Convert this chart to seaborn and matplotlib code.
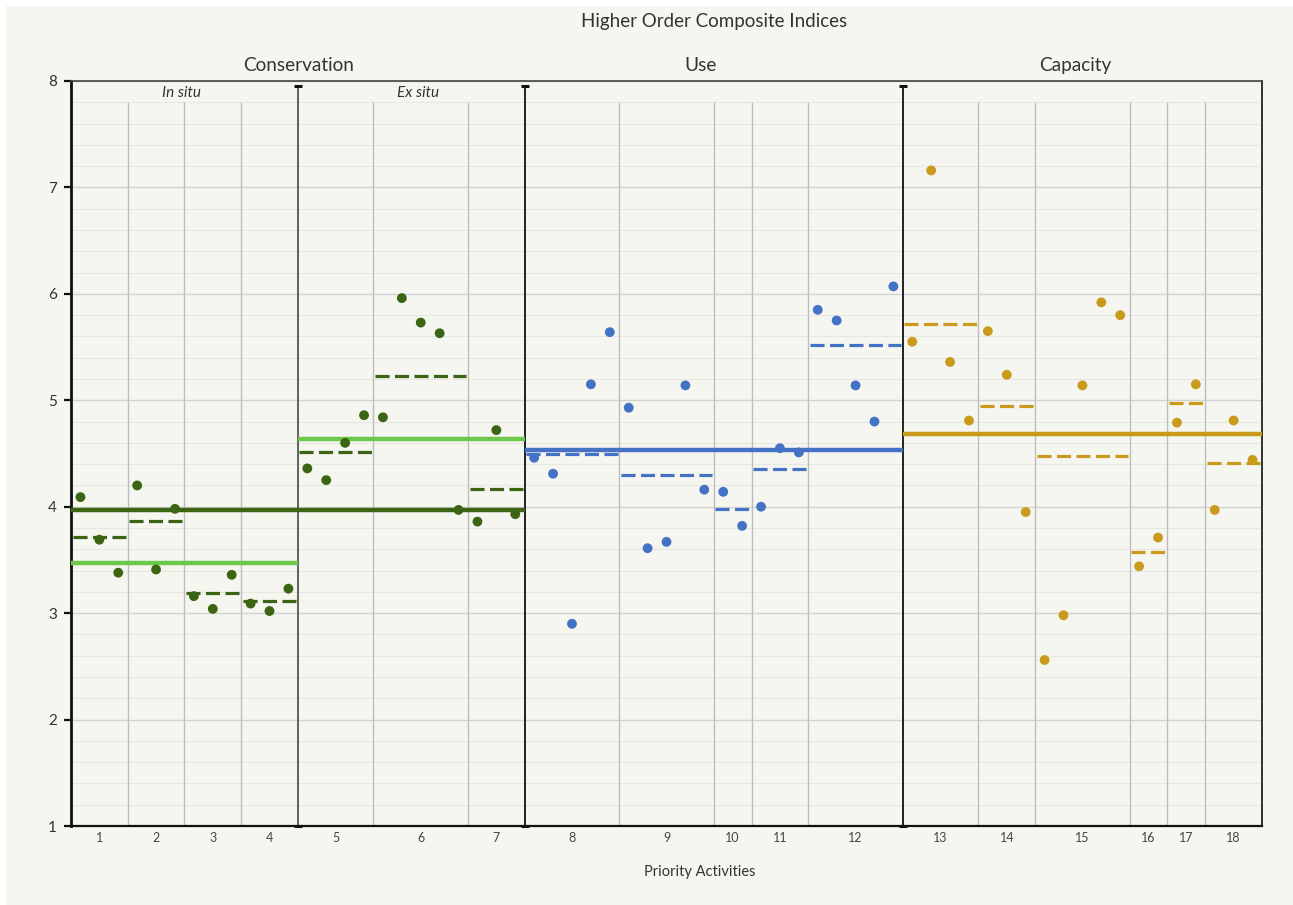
import numpy as np
import pandas as pd
import matplotlib.pyplot as plt
import seaborn as sns
from matplotlib.patches import Rectangle
from matplotlib.ticker import MultipleLocator

# scores per priority activity (one inner list per activity)
in_situ = [[4.09, 3.69, 3.38], [4.20, 3.41, 3.98], [3.16, 3.04, 3.36], [3.09, 3.02, 3.23]]
ex_situ = [[4.36, 4.25, 4.60, 4.86], [4.84, 5.96, 5.73, 5.63, 3.97], [3.86, 4.72, 3.93]]
use = [[4.46, 4.31, 2.90, 5.15, 5.64], [4.93, 3.61, 3.67, 5.14, 4.16], [4.14, 3.82],
       [4.00, 4.55, 4.51], [5.85, 5.75, 5.14, 4.80, 6.07]]
capacity = [[5.55, 7.16, 5.36, 4.81], [5.65, 5.24, 3.95], [2.56, 2.98, 5.14, 5.92, 5.80],
            [3.44, 3.71], [4.79, 5.15], [3.97, 4.81, 4.44]]

section_names = ["In situ", "Ex situ", "Use", "Capacity"]
section_colors = {"In situ": "#3b6512", "Ex situ": "#3b6512", "Use": "#4472c4", "Capacity": "#c99a1c"}
light_green = "#6cc84a"
bg = "#f6f6f1"

# long table: one row per point
rows = []
i = 0
act = 1
groups = []  # (activity, start, end, mean, section)
for name, sec in zip(section_names, [in_situ, ex_situ, use, capacity]):
    for vals in sec:
        start = i
        for v in vals:
            rows.append({"x": i, "value": v, "activity": act, "section": name})
            i += 1
        groups.append((act, start - 0.5, i - 0.5, np.mean(vals), name))
        act += 1
df = pd.DataFrame(rows)
gdf = pd.DataFrame(groups, columns=["activity", "lo", "hi", "mean", "section"])

sns.set_theme(style="white")
plt.rcParams["font.family"] = ["Lato", "DejaVu Sans"]

fig = plt.figure(figsize=(12.93, 9.05), dpi=100, facecolor="white")
fig.add_artist(Rectangle((6 / 1293, 0), 1, 1 - 6 / 905, transform=fig.transFigure,
                         facecolor=bg, edgecolor="none", zorder=-1))
ax = fig.add_axes([71 / 1293, 79 / 905, (1262 - 71) / 1293, (826 - 81) / 905])
ax.set_facecolor(bg)

n = len(df)
ax.set_xlim(-0.5, n - 0.5)
ax.set_ylim(1, 8)

# horizontal gridlines
ax.yaxis.set_major_locator(MultipleLocator(1))
ax.yaxis.set_minor_locator(MultipleLocator(0.2))
ax.grid(axis="y", which="major", color="#d2d2d0", lw=1.0, zorder=0)
ax.grid(axis="y", which="minor", color="#e7e7e2", lw=0.8, zorder=0)

# separators between activities / sections
section_edges = {11.5: "#555555", 23.5: "#111111", 43.5: "#111111"}
for b in gdf["hi"].iloc[:-1]:
    if b in section_edges:
        ax.vlines(b, 1, 7.95, color=section_edges[b], lw=1.3, zorder=2)
        ax.plot([b, b], [1.0, 7.95], ls="none", marker="_", ms=6, mew=2.2, color="#111111", zorder=3, clip_on=False)
    else:
        ax.vlines(b, 1, 7.8, color="#bdbdbd", lw=1.0, zorder=1)

# activity means (dashed)
for _, g in gdf.iterrows():
    ax.plot([g["lo"] + 0.08, g["hi"] - 0.08], [g["mean"], g["mean"]], color=section_colors[g["section"]],
            lw=2.3, dashes=(4.4, 1.7), solid_capstyle="butt", dash_capstyle="butt", zorder=4)

# section means (solid) = mean of activity means
def band(sections, color, zo=5):
    sub = gdf[gdf["section"].isin(sections)]
    ax.plot([sub["lo"].min(), sub["hi"].max()], [sub["mean"].mean()] * 2, color=color, lw=3.2,
            solid_capstyle="butt", zorder=zo)

band(["In situ"], light_green)
band(["Ex situ"], light_green)
band(["In situ", "Ex situ"], section_colors["In situ"], 6)
band(["Use"], section_colors["Use"])
band(["Capacity"], section_colors["Capacity"])

sns.scatterplot(data=df, x="x", y="value", hue="section", palette=section_colors, s=50,
                edgecolor="none", legend=False, ax=ax, zorder=7)

# axes styling
for side in ["left", "bottom", "top", "right"]:
    ax.spines[side].set_visible(True)
    ax.spines[side].set_color("#111111")
ax.spines["left"].set_linewidth(2.0)
ax.spines["bottom"].set_linewidth(1.6)
ax.spines["top"].set_linewidth(1.2)
ax.spines["top"].set_color("#444444")
ax.spines["right"].set_linewidth(1.2)

ax.set_xticks((gdf["lo"] + gdf["hi"]) / 2)
ax.set_xticklabels(gdf["activity"].astype(str))
ax.tick_params(axis="x", length=0, pad=4, labelsize=9, labelcolor="#444444")
ax.tick_params(axis="y", which="major", left=True, length=5, width=1.6, color="#111111",
               pad=5, labelsize=11, labelcolor="#333333")
ax.tick_params(axis="y", which="minor", left=False)
ax.set_yticks(range(1, 9))
ax.set_xlabel("Priority Activities", fontsize=10.5, color="#333333", labelpad=14)
ax.xaxis.set_label_coords((700 - 71) / 1191, -(872 - 826) / 745 + 0.0)
ax.xaxis.label.set_va("center")
ax.set_ylabel("")

# headings
fig.text(714 / 1293, 1 - 22 / 905, "Higher Order Composite Indices", ha="center", va="center",
         fontsize=13.5, color="#333333")
tr = ax.get_xaxis_transform()
for label, xpos in [("Conservation", 11.56), ("Use", 32.8), ("Capacity", 52.6)]:
    ax.text(xpos, 1.021, label, transform=tr, ha="center", va="center", fontsize=13.7, color="#333333")
for label, xpos in [("In situ", 5.37), ("Ex situ", 17.86)]:
    ax.text(xpos, 7.89, label, ha="center", va="center", fontsize=11, style="italic", color="#333333")

fig.savefig("out.png", dpi=100, facecolor=fig.get_facecolor())
